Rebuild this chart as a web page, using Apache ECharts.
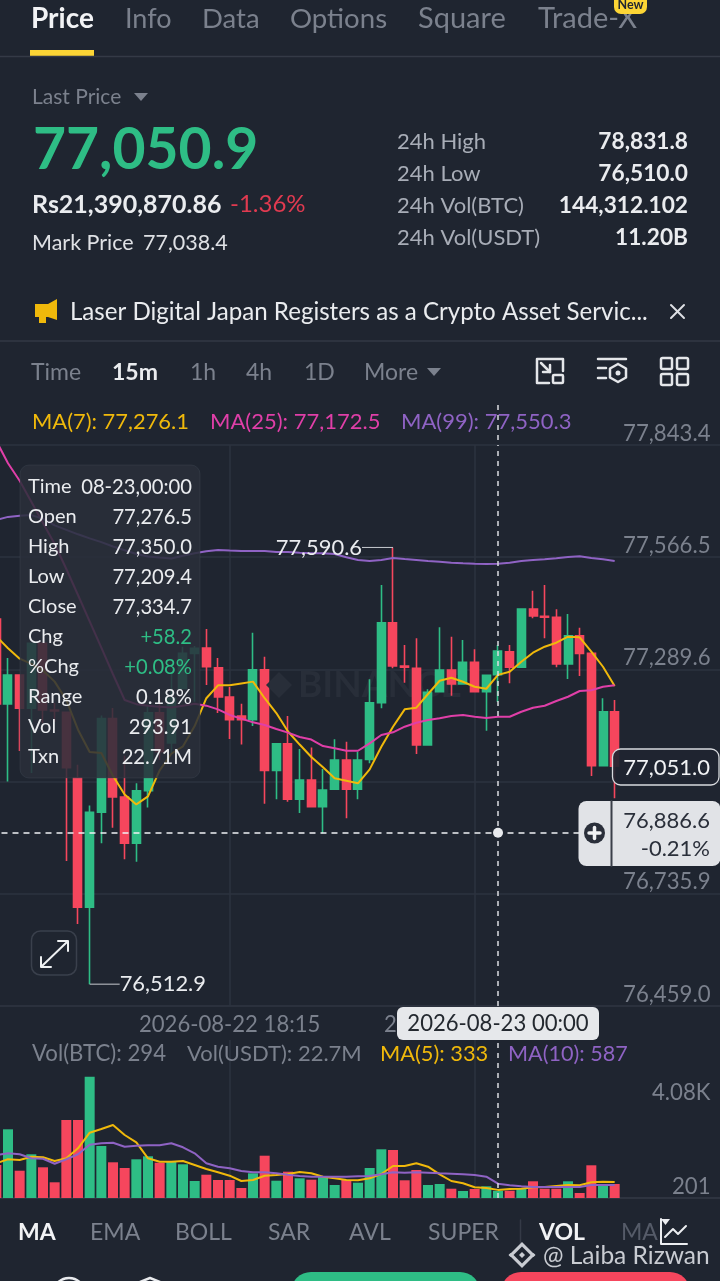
<!DOCTYPE html>
<html><head><meta charset="utf-8">
<style>html,body{margin:0;padding:0;background:#1f2530}#c{width:720px;height:1281px}</style>
<script src="https://cdn.jsdelivr.net/npm/echarts@6/dist/echarts.min.js"></script>
</head><body><div id="c"></div>
<script>
const categories = ["2026-08-22 13:15","2026-08-22 13:30","2026-08-22 13:45","2026-08-22 14:00","2026-08-22 14:15","2026-08-22 14:30","2026-08-22 14:45","2026-08-22 15:00","2026-08-22 15:15","2026-08-22 15:30","2026-08-22 15:45","2026-08-22 16:00","2026-08-22 16:15","2026-08-22 16:30","2026-08-22 16:45","2026-08-22 17:00","2026-08-22 17:15","2026-08-22 17:30","2026-08-22 17:45","2026-08-22 18:00","2026-08-22 18:15","2026-08-22 18:30","2026-08-22 18:45","2026-08-22 19:00","2026-08-22 19:15","2026-08-22 19:30","2026-08-22 19:45","2026-08-22 20:00","2026-08-22 20:15","2026-08-22 20:30","2026-08-22 20:45","2026-08-22 21:00","2026-08-22 21:15","2026-08-22 21:30","2026-08-22 21:45","2026-08-22 22:00","2026-08-22 22:15","2026-08-22 22:30","2026-08-22 22:45","2026-08-22 23:00","2026-08-22 23:15","2026-08-22 23:30","2026-08-22 23:45","2026-08-23 00:00","2026-08-23 00:15","2026-08-23 00:30","2026-08-23 00:45","2026-08-23 01:00","2026-08-23 01:15","2026-08-23 01:30","2026-08-23 01:45","2026-08-23 02:00","2026-08-23 02:15","2026-08-23 02:30","2026-08-23 02:45","2026-08-23 03:00","2026-08-23 03:15","2026-08-23 03:30","2026-08-23 03:45","2026-08-23 04:00","2026-08-23 04:15","2026-08-23 04:30","2026-08-23 04:45"];
const opens = [77414.0,77204.2,77275.8,77193.6,77354.0,77189.4,77183.7,77022.1,76702.7,76937.2,77168.2,76974.7,76860.6,76990.2,77182.7,77107.9,77242.9,77329.3,77342.4,77293.3,77221.5,77174.6,77165.4,77288.8,77040.3,77106.2,76969.2,77016.6,76950.7,76993.7,77066.0,76993.7,77067.7,77207.4,77404.8,77298.0,77292.3,77103.0,77234.5,77288.1,77253.5,77307.1,77234.5,77276.5,77333.3,77294.8,77438.6,77420.6,77418.2,77302.9,77372.8,77329.3,77051.9,77185.2];
const closes = [77204.2,77275.8,77193.6,77354.0,77189.4,77186.9,77047.0,76702.7,76937.2,77168.2,76974.7,76860.6,76990.2,77182.7,77086.5,77218.3,77329.3,77341.7,77296.2,77221.5,77165.4,77165.4,77288.8,77040.3,77106.2,76969.2,77016.6,76950.7,76991.9,77066.0,76993.7,77066.0,77207.4,77404.8,77298.0,77294.8,77103.0,77233.1,77288.1,77253.5,77307.1,77234.5,77275.0,77334.7,77294.8,77438.6,77421.4,77418.2,77302.9,77372.8,77329.3,77051.9,77185.2,77051.0];
const lows = [77177.0,77012.9,77088.2,77033.9,77157.3,77159.8,76816.7,76661.5,76512.9,76860.6,76898.9,76821.2,76815.0,76949.0,77066.0,77083.3,77242.9,77209.9,77251.1,77182.0,77117.8,77104.2,77149.9,76958.1,76969.2,76962.8,76935.2,76950.7,76885.1,76993.7,76922.1,76969.0,77057.8,77193.6,77292.3,77256.8,77080.8,77103.0,77234.5,77224.7,77253.5,77234.5,77138.3,77209.4,77255.3,77294.8,77415.7,77366.4,77294.8,77265.9,77273.3,77026.5,77051.9,76971.5];
const highs = [77436.2,77317.7,77275.8,77354.5,77354.0,77206.7,77183.7,77054.1,76953.7,77175.6,77194.3,77076.8,77008.5,77201.7,77222.2,77280.7,77345.6,77347.3,77389.3,77317.7,77246.1,77204.7,77380.2,77320.7,77106.2,77174.6,77093.1,77097.1,77043.8,77117.1,77111.2,77086.5,77265.2,77497.9,77590.6,77349.8,77366.4,77240.5,77393.5,77370.3,77362.1,77339.2,77275.0,77350.0,77349.8,77438.6,77483.8,77497.9,77437.9,77426.3,77392.5,77329.3,77218.3,77214.1];
const ma7 = [77371.0,77341.7,77316.2,77303.4,77286.9,77259.5,77214.1,77140.8,77086.0,77083.3,77026.7,76981.1,76956.4,76976.4,77040.3,77081.5,77099.8,77149.9,77218.5,77250.3,77250.3,77255.0,77259.5,77218.5,77182.0,77136.3,77104.2,77073.4,77048.0,77020.8,77014.9,77008.5,77043.0,77098.8,77148.2,77191.1,77195.1,77228.9,77261.7,77269.1,77259.2,77246.9,77241.9,77276.1,77283.9,77308.6,77330.8,77345.6,77355.5,77370.3,77368.8,77333.3,77296.2,77248.6];
const ma25 = [77853.3,77798.2,77755.3,77703.2,77651.1,77599.1,77537.4,77473.2,77408.3,77343.6,77277.7,77214.1,77203.9,77200.2,77197.5,77195.5,77200.2,77204.7,77200.2,77191.1,77177.3,77168.2,77159.0,77152.6,77142.7,77133.6,77122.7,77116.6,77100.5,77094.9,77088.9,77088.9,77107.2,77127.7,77134.3,77148.2,77158.0,77164.7,77168.9,77174.6,77177.0,77172.8,77169.6,77172.5,77172.8,77185.2,77195.1,77200.0,77211.6,77222.2,77236.3,77238.0,77246.9,77250.3];
const ma99 = [77658.5,77666.0,77668.7,77670.4,77661.3,77645.0,77633.9,77623.0,77612.9,77603.8,77592.9,77583.8,77574.6,77568.2,77565.5,77563.5,77569.9,77576.4,77581.1,77584.5,77582.8,77581.8,77581.8,77581.8,77579.1,77579.1,77577.4,77576.4,77576.1,77574.4,77566.2,77559.6,77557.1,77559.6,77564.5,77562.0,77559.6,77557.1,77555.4,77552.9,77551.4,77550.3,77549.7,77550.3,77552.9,77557.1,77559.6,77561.3,77563.8,77567.0,77568.7,77564.5,77561.3,77557.1];
const volumes = [1353,2817,1119,1792,1259,644,3198,3198,4973,2132,1464,1230,1587,1710,1447,1476,1382,697,955,738,738,410,1013,1734,709,1078,808,750,873,533,738,627,1230,1997,1968,726,1148,533,574,381,287,369,480,293.91,299,381,685,381,381,685,205,1341,521,574];
const volMa5 = [1423,1587,1558,1693,1669,1517,1628,2038,2677,2829,2993,2583,2284,1628,1488,1488,1517,1353,1189,1054,914,697,738,914,943,984,1066,1013,873,808,738,726,808,984,1312,1312,1423,1283,972,697,603,439,410,333,369,381,439,451,492,533,521,644,668,656];
const volMa10 = [1763,1833,1792,1628,1611,1406,1587,1792,2185,2243,2267,2103,2144,2161,2161,2243,2079,1833,1423,1283,1218,1107,1054,1054,1013,955,902,873,873,873,873,890,902,972,1054,1037,1054,1037,1013,996,972,943,873,587,521,480,451,451,451,451,451,533,533,533];
const priceTicks = [76459.0,76735.9,77012.8,77289.6,77566.5,77843.4];
const volTicks = [201,4080];
const volTickLabels = {201:'201',4080:'4.08K'};
const labelledCandles = [20,41];
const crossIndex = 43, crossPrice = 76886.6;
const highLabel = {index:34,value:77590.6,text:'77,590.6'};
const lowLabel = {index:8,value:76512.9,text:'76,512.9'};

const UP='#2ebd85',DOWN='#f6465d',YEL='#f0b90b',PINK='#e03fa8',PUR='#8f63c4',BG='#1f2530',GREY='#7b818d',WHITE='#eaecef',LINE='#2d333f';
const F='Lato';
const g=[];
function T(x,y,text,size,color,weight,align,z){g.push({type:'text',z:z||100,style:{x:x,y:y,text:text,font:(weight||400)+' '+size+'px '+F,fill:color,align:align||'left',verticalAlign:'middle'}});}
function R(x,y,w,h,r,fill,stroke,lw,z){g.push({type:'rect',z:z||100,shape:{x:x,y:y,width:w,height:h,r:r||0},style:{fill:fill||'none',stroke:stroke||'none',lineWidth:lw||0}});}
function L(pts,color,lw,z){g.push({type:'polyline',z:z||101,shape:{points:pts},style:{stroke:color,lineWidth:lw||2,fill:'none',lineCap:'round',lineJoin:'round'}});}
function P(pts,color,z){g.push({type:'polygon',z:z||101,shape:{points:pts},style:{fill:color}});}
function C(x,y,r,fill,stroke,lw,z){g.push({type:'circle',z:z||101,shape:{cx:x,cy:y,r:r},style:{fill:fill||'none',stroke:stroke||'none',lineWidth:lw||0}});}
function D(x,y,r,c,z){P([[x,y-r],[x+r,y],[x,y+r],[x-r,y]],c,z);}

// watermark behind the series
g.push({type:'text',z:0,style:{x:298,y:685,text:'BINANCE',font:'700 37px '+F,fill:'#282e39',align:'left',verticalAlign:'middle'}});
D(279,685,13,'#282e39',0);

// top tabs
T(31,19,'Price',28,'#f2f3f5',700);T(125,19,'Info',27,GREY);T(202,19,'Data',27.5,GREY);T(290,19,'Options',27.6,GREY);T(418,19,'Square',29,GREY);T(538,19,'Trade-X',29,GREY);
R(30,50,64,6,0,'#fcd535');L([[0,56.5],[720,56.5]],'#343a46',1.5);
R(614,-6,33,20,7,'#fcd535');T(630.5,5,'New',12.5,'#1f2530',700,'center',102);
// price block
T(32,97,'Last Price',21,GREY);P([[134,93],[148,93],[141,101]],GREY);
T(33,151,'77,050.9',57,UP,700);
T(32,204.5,'Rs21,390,870.86',25,WHITE,700);T(230,204.5,'-1.36%',24,'#e03a50');
T(32,243,'Mark Price',21.5,'#dfe1e5');T(143,243,'77,038.4',21.5,'#dfe1e5');
[['24h High','78,831.8',142],['24h Low','76,510.0',174],['24h Vol(BTC)','144,312.102',206],['24h Vol(USDT)','11.20B',238]].forEach(r=>{T(397,r[2],r[0],22,'#a8adb7');T(688,r[2],r[1],22.7,WHITE,700,'right');});
// banner
g.push({type:'polygon',z:101,shape:{points:[[35,304],[48,304],[57,299],[57,320],[48,317],[46,317],[46,323],[39,323],[39,317],[35,317]]},style:{fill:'#f0b90b'}});
T(70,312.5,'Laser Digital Japan Registers as a Crypto Asset Servic...',24.1,WHITE);
L([[671,305],[684,318]],'#dfe1e5',2);L([[684,305],[671,318]],'#dfe1e5',2);
L([[0,341],[720,341]],'#2d333f',2);
// timeframe row
T(31,373,'Time',23,GREY);T(112,373,'15m',23,WHITE,700);T(190,373,'1h',23,GREY);T(246,373,'4h',23,GREY);T(304,373,'1D',23,GREY);T(364,373,'More',23,GREY);P([[427,368],[441,368],[434,376]],GREY);
const IC='#e4e6e9';
L([[549,383],[537,383],[537,359],[563,359],[563,371]],IC,2.5);R(553,375,10,8,1,'none',IC,2.5);L([[541,363],[550,372]],IC,2.5);L([[550,365],[550,372],[543,372]],IC,2.5);
L([[598,359],[626,359]],IC,2.5);L([[598,368],[606,368]],IC,2.5);L([[598,378],[606,378]],IC,2.5);L([[618,364],[626,368.5],[626,377.5],[618,382],[610,377.5],[610,368.5],[618,364]],IC,2.5);C(618,373,2.5,IC);
[[661,358],[677,358],[661,374],[677,374]].forEach(p=>R(p[0],p[1],11,11,1.5,'none',IC,2.5));
// MA legend
T(32,422,'MA(7): 77,276.1',21.9,YEL);T(210,422,'MA(25): 77,172.5',22,PINK);T(401,422,'MA(99): 77,550.3',22,PUR);
L([[498,405],[498,445]],'rgba(220,222,226,.75)',2);g[g.length-1].style.lineDash=[5,5];g[g.length-1].style.lineCap='butt';
// info panel
R(20,465,180,313,9,'rgba(42,47,58,.86)','rgba(70,76,88,.35)',1);
[['Time','08-23,00:00',487,WHITE],['Open','77,276.5',517,WHITE],['High','77,350.0',547,WHITE],['Low','77,209.4',577,WHITE],['Close','77,334.7',607,WHITE],['Chg','+58.2',637,UP],['%Chg','+0.08%',667,UP],['Range','0.18%',697,WHITE],['Vol','293.91',727,WHITE],['Txn','22.71M',757,WHITE]].forEach(r=>{T(28,r[2],r[0],20,WHITE,400,'left',101);T(192,r[2],r[1],20.2,r[3],400,'right',101);});
// expand button
R(31.5,931,45,44,9,BG,'#3a404c',1.5);L([[42,966],[67,942]],'#eef0f2',2);L([[58,941],[68,941],[68,951]],'#eef0f2',2);L([[41,957],[41,967],[51,967]],'#eef0f2',2);
// last price tag
R(612.5,749,106.5,36,8,'rgba(31,37,48,.93)','#d8dade',1.3);T(710,768,'77,051.0',22,'#f2f3f5',400,'right',102);
// crosshair pill
R(578.5,801,142,65,8,'#e1e3e7');L([[611.5,801],[611.5,866]],'#3a3f49',2,102);
C(594.5,833,10.5,'#2a2f3a',null,0,102);L([[594.5,827.5],[594.5,838.5]],'#f1f2f4',3.5,103);L([[589,833],[600,833]],'#f1f2f4',3.5,103);
T(710,820.5,'76,886.6',22,'#2a2f3a',400,'right',102);T(710,848.5,'-0.21%',22,'#2a2f3a',400,'right',102);
// time tag
R(397,1007,202,33,6,'#e6e8eb');T(498,1024,'2026-08-23 00:00',22.1,'#23282f',400,'center',102);
// volume legend
T(32,1054,'Vol(BTC): 294',22.2,GREY);T(187,1054,'Vol(USDT): 22.7M',22,GREY);T(380,1054,'MA(5): 333',21.8,YEL);T(508,1054,'MA(10): 587',21.6,PUR);
// bottom tabs
T(18,1233,'MA',23,'#f2f3f5',700);T(90,1233,'EMA',23,GREY);T(175,1233,'BOLL',23,GREY);T(268,1233,'SAR',23,GREY);T(349,1233,'AVL',23,GREY);T(428,1233,'SUPER',23,GREY);
L([[520.5,1220],[520.5,1245]],'#343a46',1.5);T(539,1233,'VOL',23,'#f2f3f5',700);T(621,1233,'MA',23,'#555b68');
L([[661,1219],[661,1244],[687,1244]],'#eceef1',2);L([[665,1237],[673,1229],[678,1234],[686,1226]],'#eceef1',2);P([[661,1219],[670,1219],[665.5,1225]],'#eceef1',102);
// footer
D(522,1255,13,'#c9ccd2',102);D(522,1255,8.5,'#1f2530',103);D(522,1255,3,'#c9ccd2',104);D(510.5,1255,2,'#c9ccd2',104);D(533.5,1255,2,'#c9ccd2',104);
T(543,1256,'@ Laiba Rizwan',24.5,'#c9ccd2');
R(291,1272,189,40,20,UP);R(501,1272,189,40,20,DOWN);
C(69,1294,16,'none','#e8eaed',2.5);L([[135,1284],[150,1278],[165,1284]],'#e8eaed',2.5);L([[225,1284],[245,1284]],'#e8eaed',2.5);

const fmtPrice=v=>v.toLocaleString('en-US',{minimumFractionDigits:1,maximumFractionDigits:1});
const dash={color:'rgba(220,222,226,.75)',width:2,type:[5,5]};
const candle=categories.slice(0,opens.length).map((c,i)=>[opens[i],closes[i],lows[i],highs[i]]);
const volData=volumes.map((v,i)=>({value:v,itemStyle:{color:closes[i]>=opens[i]?UP:DOWN}}));
const lineSeries=(name,data,color,x,y)=>({name,type:'line',data,xAxisIndex:x,yAxisIndex:y,showSymbol:false,symbol:'none',smooth:false,z:4,clip:true,lineStyle:{color,width:2},animation:false});
const tickIdx=(i)=>labelledCandles.indexOf(i)>=0;
const axisFont={fontFamily:F,fontSize:22.2,color:GREY};

const chart=echarts.init(document.getElementById('c'),null,{width:720,height:1281});
chart.setOption({
  animation:false,backgroundColor:BG,
  textStyle:{fontFamily:F},
  grid:[{left:-9.5,top:445,width:735,height:561,outerBoundsMode:'none',containLabel:false},{left:-9.5,top:1040,width:735,height:158,outerBoundsMode:'none',containLabel:false}],
  xAxis:[
    {type:'category',gridIndex:0,data:categories,boundaryGap:true,axisTick:{show:false,alignWithLabel:true},
     axisLine:{show:true,lineStyle:{color:LINE,width:1.5}},
     axisLabel:{show:true,interval:(i)=>tickIdx(i),formatter:v=>v,margin:8,fontFamily:F,fontSize:22.1,color:GREY,hideOverlap:false,verticalAlign:'top'},
     splitLine:{show:true,alignWithLabel:true,interval:(i)=>tickIdx(i),lineStyle:{color:LINE,width:1.5}}},
    {type:'category',gridIndex:1,data:categories,boundaryGap:true,axisTick:{show:false,alignWithLabel:true},
     axisLine:{show:true,lineStyle:{color:'#343a46',width:1.5}},axisLabel:{show:false},
     splitLine:{show:true,alignWithLabel:true,interval:(i)=>tickIdx(i),lineStyle:{color:LINE,width:1.5}}}
  ],
  yAxis:[
    {type:'value',gridIndex:0,position:'right',min:76459,max:77843.4,scale:true,axisLine:{show:false},
     axisTick:{show:false,customValues:priceTicks},
     axisLabel:Object.assign({customValues:priceTicks,inside:true,margin:15,align:'right',verticalAlign:'bottom',lineHeight:23,formatter:fmtPrice,showMinLabel:true,showMaxLabel:true},axisFont),
     splitLine:{show:true,lineStyle:{color:LINE,width:1.5}}},
    {type:'value',gridIndex:1,position:'right',min:0,max:6478,axisLine:{show:false},
     axisTick:{show:false,customValues:volTicks},
     axisLabel:Object.assign({customValues:volTicks,inside:true,margin:15,align:'right',verticalAlign:'bottom',lineHeight:12,formatter:v=>volTickLabels[v]||v},axisFont),
     splitLine:{show:false}}
  ],
  graphic:{elements:g},
  series:[
    {name:'Candles',type:'candlestick',xAxisIndex:0,yAxisIndex:0,data:candle,barWidth:8.5,z:3,clip:true,
     itemStyle:{color:UP,color0:DOWN,borderColor:UP,borderColor0:DOWN,borderWidth:1.6},
     markLine:{silent:true,symbol:'none',label:{show:false},animation:false,z:5,
       data:[{xAxis:categories[crossIndex],lineStyle:dash},{yAxis:crossPrice,lineStyle:{color:'#f0f1f3',width:1.5,type:[6,5]}}]},
     markPoint:{silent:true,animation:false,z:6,data:[
       {coord:[categories[crossIndex],crossPrice],symbol:'circle',symbolSize:10,itemStyle:{color:'#e8eaed'},label:{show:false}},
       {coord:[categories[highLabel.index],highLabel.value],symbol:'circle',symbolSize:0,label:{show:true,position:'left',distance:0,formatter:'{v|'+highLabel.text+'}{l|}',rich:{v:{color:WHITE,fontSize:21.9,fontFamily:F},l:{width:31,height:1,backgroundColor:'#c8cbd0'}}}},
       {coord:[categories[lowLabel.index],lowLabel.value],symbol:'circle',symbolSize:0,label:{show:true,position:'right',distance:0,formatter:'{l|}{v|'+lowLabel.text+'}',rich:{v:{color:WHITE,fontSize:21.9,fontFamily:F},l:{width:30,height:1,backgroundColor:'#c8cbd0'}}}}
     ]}},
    lineSeries('MA(7)',ma7,YEL,0,0),
    lineSeries('MA(25)',ma25,PINK,0,0),
    lineSeries('MA(99)',ma99,PUR,0,0),
    {name:'Vol',type:'bar',xAxisIndex:1,yAxisIndex:1,data:volData,barWidth:10,z:3,
     markLine:{silent:true,symbol:'none',label:{show:false},animation:false,z:5,data:[{xAxis:categories[crossIndex],lineStyle:dash}]}},
    lineSeries('Vol MA(5)',volMa5,YEL,1,1),
    lineSeries('Vol MA(10)',volMa10,PUR,1,1)
  ]
});
</script></body></html>
